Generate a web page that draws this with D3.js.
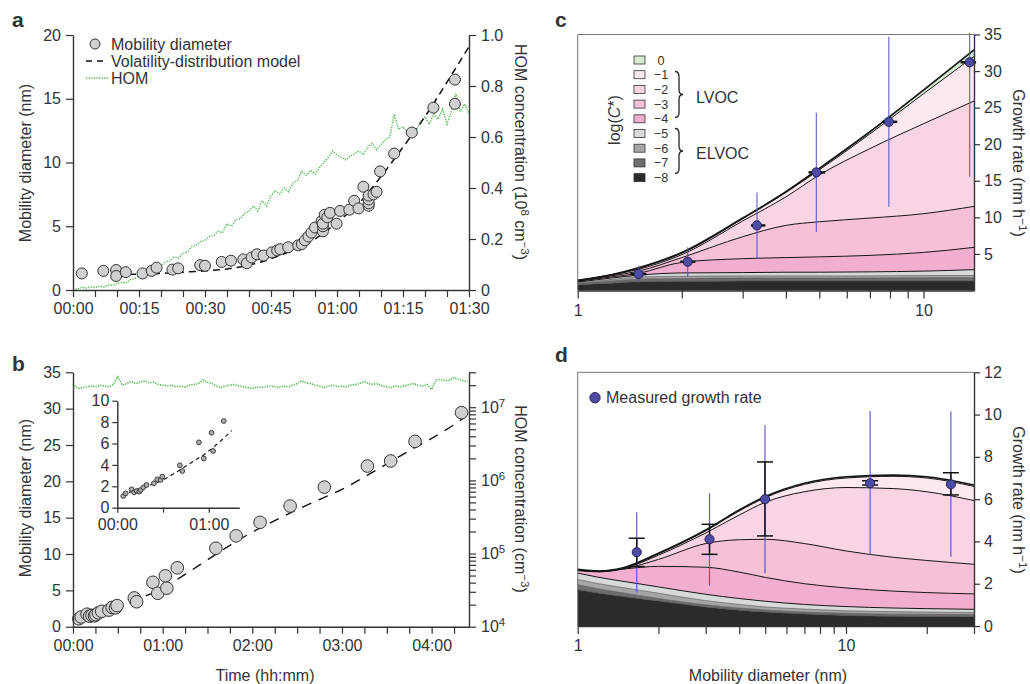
<!DOCTYPE html>
<html>
<head>
<meta charset="utf-8">
<script src="https://cdn.jsdelivr.net/npm/d3@7"></script>
<style>
  body { margin: 0; background: #fff; }
  svg { font-family: "Liberation Sans", Arial, Helvetica, sans-serif; }
  text { fill: #333; }
</style>
</head>
<body>
<svg id="fig" width="1030" height="684"></svg>
<script>
// ---------- panel a: growth vs time (minutes) ----------
const aTime = [2.0, 6.9, 9.8, 9.8, 12.0, 15.8, 17.9, 19.0, 22.6, 23.9, 28.9, 30.0, 33.8, 35.9, 38.7, 39.5,
  40.6, 41.8, 43.3, 45.2, 46.4, 47.1, 48.9, 51.2, 52.0, 52.7, 53.5, 54.2, 55.0, 56.5, 56.8, 56.8, 56.8,
  57.2, 57.8, 58.4, 59.9, 60.7, 62.8, 63.9, 64.9, 66.0, 67.2, 67.2, 67.2, 67.2, 68.3, 69.0, 69.8, 73.0,
  77.0, 81.9, 86.8, 86.8];
const aDiam = [1.3, 1.5, 1.57, 1.1, 1.4, 1.3, 1.5, 1.75, 1.6, 1.7, 1.95, 1.9, 2.2, 2.3, 2.4, 2.1,
  2.55, 2.8, 2.7, 2.95, 3.1, 3.2, 3.35, 3.5, 3.6, 3.9, 4.2, 4.5, 4.9, 5.4, 4.6, 5.0, 5.2,
  5.9, 5.7, 6.05, 5.2, 6.2, 6.3, 7.0, 6.4, 8.1, 6.6, 6.8, 7.1, 7.4, 7.5, 7.7, 9.3, 10.7,
  12.35, 14.3, 16.5, 14.6];
const aModelTime = [10, 15, 20, 25, 30, 35, 40, 45, 50, 55, 60, 65, 70, 75, 80, 85, 90];
const aModelDiam = [1.2, 1.25, 1.3, 1.4, 1.5, 1.65, 1.95, 2.45, 3.15, 4.0, 5.3, 6.8, 8.9, 11.2, 13.6, 16.3, 19.1];
// HOM (10^8 cm-3), one value per minute from 00:00
const aHom = [0.0, 0.005, 0.01, 0.008, 0.012, 0.01, 0.015, 0.012, 0.02, 0.018, 0.025, 0.03, 0.028, 0.04,
  0.045, 0.055, 0.06, 0.07, 0.075, 0.09, 0.095, 0.11, 0.115, 0.13, 0.125, 0.145, 0.15, 0.17, 0.175,
  0.19, 0.195, 0.21, 0.215, 0.23, 0.225, 0.26, 0.25, 0.275, 0.28, 0.3, 0.31, 0.33, 0.31, 0.35, 0.33,
  0.37, 0.39, 0.375, 0.4, 0.385, 0.42, 0.43, 0.465, 0.45, 0.47, 0.455, 0.48, 0.5, 0.52, 0.545, 0.53,
  0.52, 0.51, 0.525, 0.535, 0.545, 0.53, 0.56, 0.575, 0.55, 0.57, 0.59, 0.6, 0.69, 0.63, 0.64, 0.62,
  0.64, 0.625, 0.66, 0.68, 0.65, 0.69, 0.67, 0.71, 0.65, 0.7, 0.77, 0.7, 0.73, 0.69];

// ---------- panel b ----------
const bTime = [3.9, 5.5, 9.4, 11.1, 12.7, 14.4, 15.3, 17.0, 19.2, 24.0, 26.2, 28.4, 29.5, 41.0, 42.6,
  53.5, 56.7, 61.8, 62.8, 69.8, 95.6, 109.2, 125.2, 145.3, 168.2, 197.0, 212.6, 228.9, 260.0];
const bDiam = [1.09, 1.34, 1.72, 1.44, 1.56, 1.5, 1.65, 1.9, 2.12, 2.28, 2.65, 2.59, 2.9, 3.96, 3.43,
  6.11, 4.6, 7.0, 5.3, 8.1, 10.8, 12.5, 14.36, 16.6, 19.2, 22.1, 22.8, 25.5, 29.45];
const bModelTime = [3, 15, 30, 45, 60, 75, 90, 105, 120, 135, 150, 165, 180, 195, 210, 225, 240, 255, 262];
const bModelDiam = [1.2, 1.8, 2.6, 3.9, 5.3, 7.2, 9.2, 11.2, 13.0, 14.6, 16.1, 17.5, 18.9, 20.6, 22.4,
  24.2, 25.9, 27.8, 28.8];
// HOM (10^7 cm-3), one value every 3 minutes from 00:00
const bHomStep = 3;
const bHom = [2.1, 1.8, 1.85, 1.9, 1.95, 1.9, 2.0, 1.95, 1.9, 2.05, 2.6, 2.0, 2.1, 2.25, 2.1, 2.2, 2.3,
  2.15, 2.2, 2.05, 2.0, 1.95, 2.0, 1.9, 1.95, 1.9, 2.0, 2.05, 2.1, 2.35, 2.2, 2.1, 1.95, 1.85, 1.95,
  2.0, 2.05, 1.95, 1.9, 1.85, 1.8, 1.9, 1.85, 1.9, 1.95, 1.9, 1.85, 1.95, 1.9, 2.0, 2.1, 2.3, 2.15,
  2.1, 2.0, 1.95, 1.85, 1.95, 2.0, 1.9, 1.95, 1.9, 2.0, 2.05, 2.1, 2.25, 2.1, 2.05, 2.1, 1.95, 1.9,
  1.85, 1.95, 1.9, 1.95, 2.05, 2.1, 2.0, 1.95, 2.05, 1.75, 2.35, 2.4, 2.3, 2.35, 2.55, 2.4, 2.3, 2.25];

// ---------- panel c: growth rate contributions ----------
const binLabels = ["0", "\u22121", "\u22122", "\u22123", "\u22124", "\u22125", "\u22126", "\u22127", "\u22128"];
const binColors = ["#d5ebd0", "#fde8f0", "#f9d4e4", "#f6c1d8", "#f2aecf", "#d8d9db", "#a6a6a8", "#6e6e70", "#2b2b2b"];
const cDiam = [1, 1.25, 1.5, 2, 3, 4, 5, 7, 10, 14];
// cumulative tops of bins 0 ... -8 (nm h-1)
const cTops = [
  [1.4, 2.15, 3.1, 5.2, 9.9, 13.5, 16.7, 21.7, 27.4, 32.9],
  [1.4, 2.15, 3.05, 5.1, 9.8, 13.4, 16.5, 21.4, 26.9, 32.0],
  [1.35, 2.1, 2.9, 4.9, 9.5, 12.8, 15.8, 19.4, 22.8, 25.9],
  [1.3, 2.0, 2.65, 4.5, 7.35, 8.9, 9.4, 9.9, 10.5, 11.5],
  [1.25, 1.85, 2.35, 3.85, 4.35, 4.5, 4.6, 4.8, 5.2, 5.9],
  [1.15, 1.7, 2.1, 2.4, 2.45, 2.5, 2.5, 2.55, 2.65, 2.85],
  [1.05, 1.5, 1.85, 1.95, 2.0, 2.0, 2.0, 2.0, 2.05, 2.05],
  [0.95, 1.3, 1.55, 1.65, 1.7, 1.7, 1.7, 1.7, 1.75, 1.75],
  [0.8, 1.0, 1.2, 1.25, 1.3, 1.3, 1.3, 1.3, 1.3, 1.3]
];
const cPtDiam = [1.50, 2.08, 3.30, 4.90, 7.94, 13.6];
const cPtRate = [2.25, 3.93, 8.9, 16.15, 23.06, 31.2];
const cPtDiamLo = [1.42, 1.98, 3.17, 4.65, 7.6, 12.8];
const cPtDiamHi = [1.58, 2.19, 3.49, 5.2, 8.4, 14.2];
const cPtRateLo = [1.07, 1.9, 4.35, 8.0, 11.45, 15.55];
const cPtRateHi = [3.4, 5.9, 13.4, 24.3, 34.7, 35.2];

// ---------- panel d ----------
const dDiam = [1, 1.2, 1.5, 2, 3, 4, 5, 7, 10, 15, 20, 30];
const dTops = [
  [2.68, 2.6, 2.78, 3.44, 4.54, 5.49, 6.12, 6.75, 7.06, 7.14, 7.06, 6.67],
  [2.67, 2.59, 2.76, 3.41, 4.5, 5.44, 6.07, 6.7, 7.0, 7.08, 7.0, 6.6],
  [2.66, 2.58, 2.74, 3.35, 4.4, 5.25, 5.85, 6.35, 6.55, 6.5, 6.35, 5.93],
  [2.64, 2.57, 2.72, 3.15, 3.9, 4.08, 4.1, 3.9, 3.55, 3.25, 3.1, 2.92],
  [2.62, 2.56, 2.7, 2.82, 2.78, 2.55, 2.3, 2.0, 1.8, 1.65, 1.58, 1.52],
  [2.5, 2.3, 2.1, 1.85, 1.5, 1.3, 1.17, 1.02, 0.92, 0.85, 0.82, 0.79],
  [2.2, 2.0, 1.8, 1.55, 1.2, 1.02, 0.9, 0.8, 0.72, 0.68, 0.66, 0.64],
  [1.95, 1.75, 1.55, 1.3, 1.0, 0.85, 0.76, 0.66, 0.6, 0.56, 0.55, 0.54],
  [1.72, 1.55, 1.38, 1.18, 0.9, 0.75, 0.66, 0.57, 0.5, 0.46, 0.45, 0.44]
];
const dPtDiam = [1.66, 3.10, 4.99, 12.3, 24.6];
const dPtRate = [3.49, 4.1, 6.0, 6.75, 6.7];
const dPtErrLo = [2.81, 3.39, 4.26, 6.67, 6.2];
const dPtErrHi = [4.15, 4.81, 7.76, 6.87, 7.25];
const dPtRangeLo = [1.59, 1.91, 2.49, 3.36, 3.28];
const dPtRangeHi = [5.38, 6.28, 9.5, 10.17, 10.14];

// ---------- helpers ----------
const svg = d3.select("#fig");
const INK = "#333";
const FS = 16;
const pad2 = d3.format("02d");
const hhmm = m => pad2(Math.floor(m / 60)) + ":" + pad2(m % 60);

function styleAxis(g) {
  g.attr("font-family", null).attr("font-size", null);
  g.select(".domain").attr("stroke", INK).attr("stroke-width", 1.4);
  g.selectAll(".tick line").attr("stroke", INK).attr("stroke-width", 1.2);
  g.selectAll(".tick text").attr("fill", INK).attr("font-size", FS);
}

function richText(sel, parts) {
  parts.forEach(([s, sup], i) => {
    const t = sel.append("tspan").text(s);
    if (sup) t.attr("dy", -6).attr("font-size", "0.72em");
    else if (i > 0 && parts[i - 1][1]) t.attr("dy", 6);
  });
}

function axisTitle(x, y, angle, parts) {
  const t = svg.append("text")
    .attr("transform", `translate(${x},${y}) rotate(${angle})`)
    .attr("text-anchor", "middle")
    .attr("dy", "0.35em")
    .attr("font-size", FS);
  richText(t, parts);
}

function panelLabel(x, y, s) {
  svg.append("text").attr("x", x).attr("y", y)
    .attr("font-size", 21).attr("font-weight", "bold").attr("fill", "#111").text(s);
}

function diamPoints(g, ts, ds, x, y, r) {
  g.selectAll(null).data(ts).enter().append("circle")
    .attr("cx", d => x(d)).attr("cy", (d, i) => y(ds[i])).attr("r", r)
    .attr("fill", "#d0d0d2").attr("stroke", "#333").attr("stroke-width", 1);
}

// ================= panel a =================
{
  const x = d3.scaleLinear().domain([0, 90]).range([73, 469]);
  const y = d3.scaleLinear().domain([0, 20]).range([290, 35]);
  const yR = d3.scaleLinear().domain([0, 1]).range([290, 35]);
  const g = svg.append("g");

  g.append("path").datum(aHom)
    .attr("fill", "none").attr("stroke", "#3fba3f").attr("stroke-width", 1.4)
    .attr("stroke-dasharray", "1.2 1.4")
    .attr("d", d3.line().x((d, i) => x(i)).y(d => yR(d)));

  g.append("path").datum(aModelTime)
    .attr("fill", "none").attr("stroke", "#111").attr("stroke-width", 1.5)
    .attr("stroke-dasharray", "7 5")
    .attr("d", d3.line().curve(d3.curveMonotoneX).x(d => x(d)).y((d, i) => y(aModelDiam[i])));

  diamPoints(g, aTime, aDiam, x, y, 5.5);

  g.append("g").attr("transform", "translate(0,290)")
    .call(d3.axisBottom(x).tickValues(d3.range(0, 91, 5)).tickSize(7).tickSizeOuter(0).tickPadding(6)
      .tickFormat(d => d % 15 === 0 ? hhmm(d) : ""))
    .call(styleAxis);
  g.append("g").attr("transform", "translate(73,0)")
    .call(d3.axisLeft(y).tickValues([0, 5, 10, 15, 20]).tickSize(7).tickSizeOuter(0).tickPadding(5))
    .call(styleAxis);
  g.append("g").attr("transform", "translate(469,0)")
    .call(d3.axisRight(yR).tickValues([0, 0.2, 0.4, 0.6, 0.8, 1]).tickSize(7).tickSizeOuter(0).tickPadding(5)
      .tickFormat(d => d === 0 ? "0" : d3.format(".1f")(d)))
    .call(styleAxis);

  // legend
  g.append("circle").attr("cx", 95).attr("cy", 44).attr("r", 5)
    .attr("fill", "#d0d0d2").attr("stroke", "#333");
  g.append("line").attr("x1", 86).attr("x2", 108).attr("y1", 61).attr("y2", 61)
    .attr("stroke", "#111").attr("stroke-width", 1.5).attr("stroke-dasharray", "6 5");
  g.append("line").attr("x1", 86).attr("x2", 108).attr("y1", 78).attr("y2", 78)
    .attr("stroke", "#3fba3f").attr("stroke-width", 1.4).attr("stroke-dasharray", "1.2 1.4");
  [["Mobility diameter", 44], ["Volatility-distribution model", 61], ["HOM", 78]].forEach(([s, yy]) =>
    g.append("text").attr("x", 111).attr("y", yy).attr("dy", "0.35em").attr("font-size", FS).text(s));

  axisTitle(25, 163, -90, [["Mobility diameter (nm)"]]);
  axisTitle(521, 152, 90, [["HOM concentration (10"], ["8", true], [" cm"], ["\u22123", true], [")"]]);
  panelLabel(12, 27, "a");
}

// ================= panel b =================
{
  const x = d3.scaleLinear().domain([0, 265]).range([73, 469]);
  const y = d3.scaleLinear().domain([0, 35]).range([626.7, 372.3]);
  const yR = d3.scaleLog().domain([1e4, 3e7]).range([626.7, 372.3]);
  const g = svg.append("g");

  g.append("path").datum(bHom)
    .attr("fill", "none").attr("stroke", "#3fba3f").attr("stroke-width", 1.6)
    .attr("stroke-dasharray", "1.2 1.3")
    .attr("d", d3.line().x((d, i) => x(i * bHomStep)).y(d => yR(d * 1e7)));

  g.append("path").datum(bModelTime)
    .attr("fill", "none").attr("stroke", "#111").attr("stroke-width", 1.4)
    .attr("stroke-dasharray", "10 8")
    .attr("d", d3.line().curve(d3.curveMonotoneX).x(d => x(d)).y((d, i) => y(bModelDiam[i])));

  diamPoints(g, bTime, bDiam, x, y, 6.3);

  g.append("g").attr("transform", "translate(0,626.7)")
    .call(d3.axisBottom(x).tickValues(d3.range(0, 256, 15)).tickSize(7).tickSizeOuter(0).tickPadding(6)
      .tickFormat(d => d % 60 === 0 ? hhmm(d) : ""))
    .call(styleAxis);
  g.append("g").attr("transform", "translate(73,0)")
    .call(d3.axisLeft(y).tickValues(d3.range(0, 36, 5)).tickSize(7).tickSizeOuter(0).tickPadding(5))
    .call(styleAxis);

  const logTicks = [];
  for (let k = 4; k <= 7; k++) for (let m = 1; m <= 9; m++) if (m * 10 ** k <= 3e7) logTicks.push(m * 10 ** k);
  const ra = g.append("g").attr("transform", "translate(469,0)")
    .call(d3.axisRight(yR).tickValues(logTicks).tickSize(7).tickSizeOuter(0).tickPadding(5).tickFormat(() => ""))
    .call(styleAxis);
  ra.selectAll(".tick text").each(function (d) {
    const e = Math.round(Math.log10(d));
    if (Math.abs(d - 10 ** e) < 1e-6 * d) {
      const t = d3.select(this);
      richText(t, [["10"], [String(e), true]]);
    }
  });

  // inset
  const ix = d3.scaleLinear().domain([0, 80]).range([117.3, 239.3]);
  const iy = d3.scaleLinear().domain([0, 10]).range([507.7, 400.7]);
  const ins = svg.append("g");
  ins.append("path").datum(bModelTime.filter(t => t <= 80))
    .attr("fill", "none").attr("stroke", "#111").attr("stroke-width", 1.2)
    .attr("stroke-dasharray", "4 3.5")
    .attr("d", d3.line().curve(d3.curveMonotoneX).x(d => ix(d)).y((d, i) => iy(bModelDiam[i])));
  const insT = bTime.filter(t => t <= 80);
  ins.selectAll(null).data(insT).enter().append("circle")
    .attr("cx", d => ix(d)).attr("cy", (d, i) => iy(bDiam[i])).attr("r", 2.4)
    .attr("fill", "#aaa").attr("stroke", "#333").attr("stroke-width", 0.9);
  ins.append("g").attr("transform", "translate(0,507.7)")
    .call(d3.axisBottom(ix).tickValues([0, 30, 60]).tickSize(5).tickSizeOuter(0).tickPadding(6)
      .tickFormat(d => d % 60 === 0 ? hhmm(d) : ""))
    .call(styleAxis);
  ins.append("g").attr("transform", "translate(117.3,0)")
    .call(d3.axisLeft(iy).tickValues([0, 2, 4, 6, 8, 10]).tickSize(5).tickSizeOuter(0).tickPadding(3))
    .call(styleAxis);

  axisTitle(25, 498, -90, [["Mobility diameter (nm)"]]);
  axisTitle(521, 499, 90, [["HOM concentration (cm"], ["\u22123", true], [")"]]);
  svg.append("text").attr("x", 265).attr("y", 681).attr("text-anchor", "middle")
    .attr("font-size", FS).text("Time (hh:mm)");
  panelLabel(12, 371, "b");
}

// ================= bands (c, d) =================
function drawBands(g, xs, tops, x, y) {
  tops.forEach((top, i) => {
    const bottom = i < tops.length - 1 ? tops[i + 1] : null;
    const area = d3.area().curve(d3.curveMonotoneX)
      .x(d => x(d))
      .y0((d, j) => y(bottom ? bottom[j] : 0))
      .y1((d, j) => y(top[j]));
    g.append("path").datum(xs).attr("fill", binColors[i]).attr("d", area);
  });
  tops.forEach((top, i) => {
    const line = d3.line().curve(d3.curveMonotoneX).x(d => x(d)).y((d, j) => y(top[j]));
    g.append("path").datum(xs).attr("fill", "none")
      .attr("stroke", i < 6 ? "#151515" : "#4a4a4a")
      .attr("stroke-width", i === 0 ? 1.7 : (i < 6 ? 1 : 0.6))
      .attr("d", line);
  });
}

function frame(g, x0, x1, y0, y1) {
  g.append("path").attr("d", `M${x0},${y1}V${y0}H${x1}`)
    .attr("fill", "none").attr("stroke", "#777").attr("stroke-width", 1);
}

// ================= panel c =================
{
  const x = d3.scaleLog().domain([1, 14]).range([577.7, 974]);
  const y = d3.scaleLinear().domain([0, 35]).range([290.5, 34.5]);
  const g = svg.append("g");
  drawBands(g, cDiam, cTops, x, y);
  frame(g, 577.7, 974, 34.5, 290.5);

  g.selectAll(null).data(cPtDiam).enter().append("line")
    .attr("x1", d => x(d)).attr("x2", d => x(d))
    .attr("y1", (d, i) => y(cPtRateLo[i])).attr("y2", (d, i) => y(cPtRateHi[i]))
    .attr("stroke", "#5454cc").attr("stroke-width", 1.2).attr("opacity", 0.85);
  g.selectAll(null).data(cPtDiam).enter().append("line")
    .attr("x1", (d, i) => x(cPtDiamLo[i])).attr("x2", (d, i) => x(cPtDiamHi[i]))
    .attr("y1", (d, i) => y(cPtRate[i])).attr("y2", (d, i) => y(cPtRate[i]))
    .attr("stroke", "#111").attr("stroke-width", 2.4);
  g.selectAll(null).data(cPtDiam).enter().append("circle")
    .attr("cx", d => x(d)).attr("cy", (d, i) => y(cPtRate[i])).attr("r", 4.6)
    .attr("fill", "#4d4ba3").attr("stroke", "#1d1d4d").attr("stroke-width", 0.9);

  g.append("g").attr("transform", "translate(0,290.5)")
    .call(d3.axisBottom(x).tickValues([1, 2, 3, 4, 5, 6, 7, 8, 9, 10]).tickSize(8).tickSizeOuter(0).tickPadding(6)
      .tickFormat(d => (d === 1 || d === 10) ? d : ""))
    .call(styleAxis);
  g.append("g").attr("transform", "translate(974,0)")
    .call(d3.axisRight(y).tickValues([5, 10, 15, 20, 25, 30, 35]).tickSize(6).tickSizeOuter(0).tickPadding(4))
    .call(styleAxis);

  // legend (compact rows, as in the figure)
  binLabels.forEach((s, i) => {
    const yy = 60 + i * 14.7;
    g.append("rect").attr("x", 634).attr("y", yy - 4).attr("width", 11).attr("height", 8)
      .attr("fill", binColors[i]).attr("stroke", "#333").attr("stroke-width", 0.8);
    g.append("text").attr("x", 661).attr("y", yy).attr("dy", "0.36em")
      .attr("text-anchor", "middle").attr("font-size", 12.6).text(s);
  });
  const brace = (x0, y0, y1) => {
    const w = 4, ym = (y0 + y1) / 2, r = 5;
    return `M${x0},${y0}Q${x0 + w},${y0} ${x0 + w},${y0 + r}L${x0 + w},${ym - r}Q${x0 + w},${ym} ${x0 + 2 * w},${ym}` +
      `Q${x0 + w},${ym} ${x0 + w},${ym + r}L${x0 + w},${y1 - r}Q${x0 + w},${y1} ${x0},${y1}`;
  };
  g.append("path").attr("d", brace(675, 71.5, 117.5)).attr("fill", "none").attr("stroke", "#222").attr("stroke-width", 1.3);
  g.append("path").attr("d", brace(675, 128.5, 173.5)).attr("fill", "none").attr("stroke", "#222").attr("stroke-width", 1.3);
  g.append("text").attr("x", 696).attr("y", 97).attr("dy", "0.35em").attr("font-size", FS).text("LVOC");
  g.append("text").attr("x", 696).attr("y", 153).attr("dy", "0.35em").attr("font-size", FS).text("ELVOC");
  const lc = svg.append("text").attr("transform", "translate(614,120) rotate(-90)")
    .attr("text-anchor", "middle").attr("dy", "0.35em").attr("font-size", FS);
  lc.append("tspan").text("log(");
  lc.append("tspan").attr("font-style", "italic").text("C");
  lc.append("tspan").text("*)");

  axisTitle(1019, 163, 90, [["Growth rate (nm h"], ["\u22121", true], [")"]]);
  panelLabel(555, 27, "c");
}

// ================= panel d =================
{
  const x = d3.scaleLog().domain([1, 30]).range([577.7, 974]);
  const y = d3.scaleLinear().domain([0, 12]).range([626, 372.3]);
  const g = svg.append("g");
  drawBands(g, dDiam, dTops, x, y);
  frame(g, 577.7, 974, 372.3, 626);

  g.selectAll(null).data(dPtDiam).enter().append("line")
    .attr("x1", d => x(d)).attr("x2", d => x(d))
    .attr("y1", (d, i) => y(dPtRangeLo[i])).attr("y2", (d, i) => y(dPtRangeHi[i]))
    .attr("stroke", "#4e4ec8").attr("stroke-width", 1.2).attr("opacity", 0.9);
  const eb = g.selectAll(null).data(dPtDiam).enter().append("g");
  eb.append("line").attr("x1", d => x(d)).attr("x2", d => x(d))
    .attr("y1", (d, i) => y(dPtErrLo[i])).attr("y2", (d, i) => y(dPtErrHi[i]));
  eb.append("line").attr("x1", d => x(d) - 8).attr("x2", d => x(d) + 8)
    .attr("y1", (d, i) => y(dPtErrLo[i])).attr("y2", (d, i) => y(dPtErrLo[i]));
  eb.append("line").attr("x1", d => x(d) - 8).attr("x2", d => x(d) + 8)
    .attr("y1", (d, i) => y(dPtErrHi[i])).attr("y2", (d, i) => y(dPtErrHi[i]));
  eb.selectAll("line").attr("stroke", "#111").attr("stroke-width", 1.5);
  g.selectAll(null).data(dPtDiam).enter().append("circle")
    .attr("cx", d => x(d)).attr("cy", (d, i) => y(dPtRate[i])).attr("r", 4.6)
    .attr("fill", "#4d4ba3").attr("stroke", "#1d1d4d").attr("stroke-width", 0.9);

  g.append("g").attr("transform", "translate(0,626)")
    .call(d3.axisBottom(x).tickValues([1, 2, 3, 4, 5, 6, 7, 8, 9, 10, 20, 30]).tickSize(8).tickSizeOuter(0).tickPadding(6)
      .tickFormat(d => (d === 1 || d === 10) ? d : ""))
    .call(styleAxis);
  g.append("g").attr("transform", "translate(974,0)")
    .call(d3.axisRight(y).tickValues([0, 2, 4, 6, 8, 10, 12]).tickSize(6).tickSizeOuter(0).tickPadding(4))
    .call(styleAxis);

  g.append("circle").attr("cx", 595).attr("cy", 397.7).attr("r", 5.2)
    .attr("fill", "#4d4ba3").attr("stroke", "#1d1d4d").attr("stroke-width", 0.9);
  g.append("text").attr("x", 606).attr("y", 397.7).attr("dy", "0.35em").attr("font-size", FS)
    .text("Measured growth rate");

  axisTitle(1019, 500, 90, [["Growth rate (nm h"], ["\u22121", true], [")"]]);
  svg.append("text").attr("x", 768).attr("y", 681).attr("text-anchor", "middle")
    .attr("font-size", FS).text("Mobility diameter (nm)");
  panelLabel(555, 362, "d");
}
</script>
</body>
</html>
